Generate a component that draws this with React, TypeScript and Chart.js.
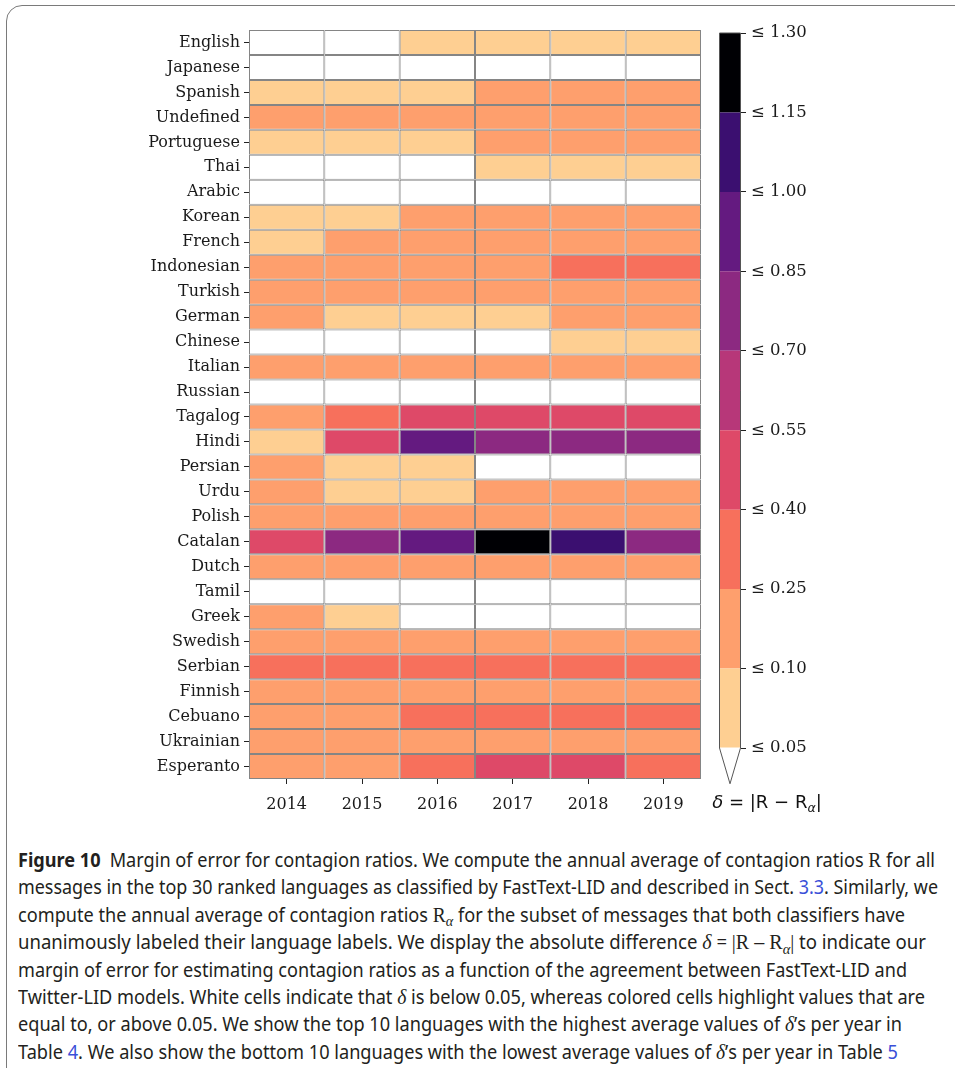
import React, { useEffect, useLayoutEffect, useRef } from 'react';
import { Chart, registerables } from 'chart.js';

Chart.register(...registerables);

// Top 30 languages (FastText-LID ranking) and the years shown as columns
const languages = [
  'English', 'Japanese', 'Spanish', 'Undefined', 'Portuguese', 'Thai', 'Arabic', 'Korean',
  'French', 'Indonesian', 'Turkish', 'German', 'Chinese', 'Italian', 'Russian', 'Tagalog',
  'Hindi', 'Persian', 'Urdu', 'Polish', 'Catalan', 'Dutch', 'Tamil', 'Greek', 'Swedish',
  'Serbian', 'Finnish', 'Cebuano', 'Ukrainian', 'Esperanto',
];
const years = ['2014', '2015', '2016', '2017', '2018', '2019'];

// delta = |R - R_alpha| per language (same order as `languages`), one array per year
const delta2014 = [0.03, 0.02, 0.08, 0.14, 0.07, 0.03, 0.02, 0.08, 0.09, 0.16, 0.13, 0.15, 0.04, 0.12, 0.02,
  0.18, 0.09, 0.21, 0.17, 0.14, 0.47, 0.13, 0.03, 0.19, 0.15, 0.31, 0.17, 0.22, 0.16, 0.2];
const delta2015 = [0.04, 0.02, 0.07, 0.15, 0.08, 0.02, 0.03, 0.09, 0.12, 0.17, 0.14, 0.08, 0.03, 0.13, 0.02,
  0.33, 0.46, 0.07, 0.09, 0.16, 0.78, 0.14, 0.04, 0.06, 0.18, 0.34, 0.19, 0.23, 0.17, 0.21];
const delta2016 = [0.06, 0.03, 0.09, 0.16, 0.09, 0.04, 0.02, 0.11, 0.14, 0.19, 0.15, 0.07, 0.03, 0.14, 0.03,
  0.45, 0.93, 0.08, 0.08, 0.17, 0.91, 0.16, 0.02, 0.04, 0.19, 0.35, 0.2, 0.29, 0.18, 0.3];
const delta2017 = [0.07, 0.03, 0.12, 0.17, 0.13, 0.06, 0.03, 0.15, 0.16, 0.21, 0.17, 0.09, 0.04, 0.15, 0.02,
  0.49, 0.79, 0.04, 0.13, 0.18, 1.24, 0.17, 0.03, 0.03, 0.2, 0.33, 0.21, 0.32, 0.19, 0.44];
const delta2018 = [0.08, 0.02, 0.13, 0.18, 0.14, 0.07, 0.02, 0.16, 0.17, 0.27, 0.16, 0.14, 0.07, 0.16, 0.03,
  0.48, 0.77, 0.03, 0.15, 0.19, 1.08, 0.18, 0.02, 0.02, 0.21, 0.32, 0.2, 0.34, 0.2, 0.46];
const delta2019 = [0.09, 0.03, 0.14, 0.19, 0.15, 0.08, 0.02, 0.17, 0.18, 0.29, 0.17, 0.15, 0.08, 0.17, 0.02,
  0.47, 0.75, 0.02, 0.16, 0.2, 0.74, 0.19, 0.03, 0.02, 0.22, 0.33, 0.21, 0.31, 0.21, 0.36];
const deltaByYear = [delta2014, delta2015, delta2016, delta2017, delta2018, delta2019];

// Discrete colour levels (magma) and their upper bounds
const levelBounds = [0.05, 0.1, 0.25, 0.4, 0.55, 0.7, 0.85, 1.0, 1.15, 1.3];
const levelColors = ['#FECF92', '#FE9F6D', '#F7705C', '#DE4968', '#B73779', '#8C2981', '#641A80', '#3B0F70', '#000004'];
const belowColor = '#ffffff';

function colorFor(v: number): string {
  if (v < levelBounds[0]) return belowColor;
  for (let i = 0; i < levelColors.length; i++) {
    if (v <= levelBounds[i + 1]) return levelColors[i];
  }
  return levelColors[levelColors.length - 1];
}

const serif = 'DejaVu Serif';
const tickFont = { family: serif, size: 16 };
const textColor = '#1a1a1a';

function Heatmap() {
  const ref = useRef<HTMLCanvasElement>(null);
  useEffect(() => {
    const chart = new Chart(ref.current!, {
      type: 'bar',
      data: {
        labels: languages,
        datasets: years.map((year, c) => ({
          label: year,
          data: deltaByYear[c].map(() => [c, c + 1]),
          backgroundColor: deltaByYear[c].map(colorFor),
          borderColor: '#858585',
          borderWidth: 1,
          borderSkipped: false,
          inflateAmount: 0,
          barPercentage: 1,
          categoryPercentage: 1,
          grouped: false,
        })) as any,
      },
      options: {
        indexAxis: 'y',
        animation: false,
        responsive: false,
        events: [],
        layout: { padding: { top: 30, right: 9, left: 0, bottom: 0 } },
        plugins: { legend: { display: false }, tooltip: { enabled: false } },
        scales: {
          x: {
            type: 'linear',
            position: 'bottom',
            min: 0,
            max: years.length,
            afterBuildTicks: (s: any) => {
              s.ticks = years.map((_, i) => ({ value: i + 0.5 }));
            },
            afterFit: (s: any) => { s.height = 51; },
            ticks: {
              callback: (_v: any, i: number) => years[i],
              font: tickFont,
              color: textColor,
              padding: 11,
              maxRotation: 0,
              autoSkip: false,
            },
            grid: { drawOnChartArea: false, drawTicks: true, tickLength: 5, color: '#222' },
            border: { display: false },
          },
          y: {
            type: 'category',
            position: 'left',
            offset: true,
            afterFit: (s: any) => { s.width = 249; },
            ticks: { font: tickFont, color: textColor, padding: 4, autoSkip: false },
            grid: { offset: false, drawOnChartArea: false, drawTicks: true, tickLength: 5, color: '#222' },
            border: { display: false },
          },
        },
      } as any,
    });
    return () => chart.destroy();
  }, []);
  return <canvas ref={ref} width={710} height={830} style={{ position: 'absolute', left: 0, top: 0 }} />;
}

// Outline of the colour bar plus the "extend min" triangle for values below the first bound
const colorbarOutline = {
  id: 'colorbarOutline',
  afterDatasetsDraw(chart: any) {
    const { ctx, chartArea } = chart;
    const { left, right, top, bottom } = chartArea;
    const y = chart.scales.y;
    const ext = 0.05 * (y.getPixelForValue(0) - y.getPixelForValue(levelColors.length));
    const apexY = bottom + ext;
    const cx = (left + right) / 2;
    ctx.save();
    ctx.beginPath();
    ctx.moveTo(left, bottom);
    ctx.lineTo(right, bottom);
    ctx.lineTo(cx, apexY);
    ctx.closePath();
    ctx.fillStyle = belowColor;
    ctx.fill();
    ctx.beginPath();
    ctx.moveTo(left + 0.5, top);
    ctx.lineTo(right - 0.5, top);
    ctx.lineTo(right - 0.5, bottom);
    ctx.lineTo(cx, apexY);
    ctx.lineTo(left + 0.5, bottom);
    ctx.closePath();
    ctx.strokeStyle = '#555';
    ctx.lineWidth = 1;
    ctx.stroke();
    ctx.restore();
  },
};

function ColorBar() {
  const ref = useRef<HTMLCanvasElement>(null);
  useEffect(() => {
    const chart = new Chart(ref.current!, {
      type: 'bar',
      data: {
        labels: ['δ'],
        datasets: levelColors.map((col, i) => ({
          data: [[i, i + 1]],
          backgroundColor: col,
          borderWidth: 0,
          inflateAmount: 0,
          barPercentage: 1,
          categoryPercentage: 1,
          grouped: false,
        })) as any,
      },
      options: {
        animation: false,
        responsive: false,
        events: [],
        layout: { padding: { top: 33, left: 19, right: 0, bottom: 82 } },
        plugins: { legend: { display: false }, tooltip: { enabled: false } },
        scales: {
          x: { display: false },
          y: {
            type: 'linear',
            position: 'right',
            min: 0,
            max: levelColors.length,
            afterBuildTicks: (s: any) => {
              s.ticks = levelBounds.map((_, i) => ({ value: i }));
            },
            afterFit: (s: any) => { s.width = 99; },
            ticks: {
              callback: (_v: any, i: number) => '≤ ' + levelBounds[i].toFixed(2),
              font: { family: serif, size: 16.5 },
              color: textColor,
              padding: 5,
              autoSkip: false,
            },
            grid: { drawOnChartArea: false, drawTicks: true, tickLength: 5, color: '#222' },
            border: { display: false },
          },
        },
      } as any,
      plugins: [colorbarOutline],
    });
    return () => chart.destroy();
  }, []);
  return <canvas ref={ref} width={140} height={830} style={{ position: 'absolute', left: 700, top: 0 }} />;
}

const ink = '#231F20';
const linkColor = '#3A4FD8';
const mathFont = '"Liberation Serif", "DejaVu Serif", serif';

const M = ({ children }: { children: React.ReactNode }) => (
  <span style={{ fontFamily: mathFont, fontSize: '1.08em' }}>{children}</span>
);
const Sub = ({ children }: { children: React.ReactNode }) => (
  <span style={{ fontStyle: 'italic', fontSize: '0.72em', position: 'relative', top: '0.3em', lineHeight: 0 }}>{children}</span>
);
const L = ({ children }: { children: React.ReactNode }) => <span style={{ color: linkColor }}>{children}</span>;
const D = () => <span style={{ fontFamily: mathFont, fontStyle: 'italic', fontSize: '1.08em' }}>δ</span>;

const captionLines: React.ReactNode[] = [
  <><b>Figure 10</b>{'\u2002'}Margin of error for contagion ratios. We compute the annual average of contagion ratios <M>R</M> for all</>,
  <>messages in the top 30 ranked languages as classified by FastText-LID and described in Sect. <L>3.3</L>. Similarly, we</>,
  <>compute the annual average of contagion ratios <M>R<Sub>α</Sub></M> for the subset of messages that both classifiers have</>,
  <>unanimously labeled their language labels. We display the absolute difference <D /> = <M>|R – R<Sub>α</Sub>|</M> to indicate our</>,
  <>margin of error for estimating contagion ratios as a function of the agreement between FastText-LID and</>,
  <>Twitter-LID models. White cells indicate that <D /> is below 0.05, whereas colored cells highlight values that are</>,
  <>equal to, or above 0.05. We show the top 10 languages with the highest average values of <D />’s per year in</>,
  <>Table <L>4</L>. We also show the bottom 10 languages with the lowest average values of <D />’s per year in Table <L>5</L></>,
];
const captionWidths = [917, 920, 887, 908, 889, 907, 884, 880];

function Caption() {
  const refs = useRef<(HTMLSpanElement | null)[]>([]);
  useLayoutEffect(() => {
    const fit = () => {
      refs.current.forEach((el, i) => {
        if (!el) return;
        el.style.transform = 'none';
        const w = el.getBoundingClientRect().width;
        if (w > 0) el.style.transform = `scaleX(${captionWidths[i] / w})`;
      });
    };
    fit();
    (document as any).fonts?.ready?.then(fit);
  }, []);
  return (
    <div style={{ position: 'absolute', left: 18, top: 846, fontFamily: '"Noto Sans", "Open Sans", sans-serif', fontSize: 19.5, lineHeight: '27.4px', color: ink }}>
      {captionLines.map((line, i) => (
        <div key={i} style={{ height: 27.4, whiteSpace: 'nowrap' }}>
          <span ref={(el) => { refs.current[i] = el; }} style={{ display: 'inline-block', transformOrigin: 'left center' }}>{line}</span>
        </div>
      ))}
    </div>
  );
}

export default function App() {
  return (
    <div style={{ position: 'absolute', left: 0, top: 0, width: 955, height: 1068, overflow: 'hidden', background: '#fff' }}>
      <div style={{ position: 'absolute', left: 6, top: 5, width: 1000, height: 1100, border: '1.5px solid #7a7a7a', borderRadius: 16 }} />
      <Heatmap />
      <ColorBar />
      <div style={{ position: 'absolute', left: 700, top: 791, width: 134, textAlign: 'center', fontFamily: '"DejaVu Sans", sans-serif', fontSize: 18, color: '#111', whiteSpace: 'nowrap' }}>
        <span style={{ fontStyle: 'italic' }}>δ</span> = |R − R<span style={{ fontStyle: 'italic', fontSize: 12.5, position: 'relative', top: 4 }}>α</span>|
      </div>
      <Caption />
    </div>
  );
}
